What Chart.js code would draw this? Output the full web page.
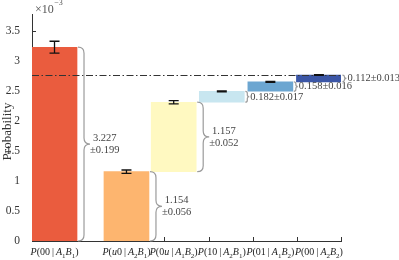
<!DOCTYPE html>
<html>
<head>
<meta charset="utf-8">
<script src="https://cdn.jsdelivr.net/npm/chart.js@4.4.1/dist/chart.umd.min.js"></script>
<style>
  html, body { margin: 0; padding: 0; background: #fff; }
  canvas { display: block; }
</style>
</head>
<body>
<canvas id="chart" width="399" height="260"></canvas>
<script>
const categories = ['P(00|A_1B_1)', 'P(u0|A_2B_1)', 'P(0u|A_1B_2)', 'P(10|A_2B_1)', 'P(01|A_1B_2)', 'P(00|A_2B_2)'];
const values = [3.227, 1.154, 1.157, 0.182, 0.158, 0.112];
const errors = [0.199, 0.056, 0.052, 0.017, 0.016, 0.013];
const yTicks = [0, 0.5, 1, 1.5, 2, 2.5, 3, 3.5];
const slotX = [0.51, 2.14, 3.21, 4.30, 5.40, 6.50];
const colors = ['#EA5C3E', '#FDB56F', '#FFF9C1', '#C8E6F0', '#6CA6D1', '#3B56A6'];
const SERIF = '"Liberation Serif", "Times New Roman", serif';

// first bar stands alone, the rest stack up from zero
const bases = [0];
let run = 0;
for (let i = 1; i < values.length; i++) {
    bases.push(run);
    run += values[i];
}
const total = run;

function brace(ctx, x0, yTop, yBot, w) {
    const h = yBot - yTop;
    const r = Math.min(w / 2, h / 4);
    const xm = x0 + w / 2;
    const ym = (yTop + yBot) / 2;
    ctx.beginPath();
    ctx.moveTo(x0, yTop);
    ctx.quadraticCurveTo(xm, yTop, xm, yTop + r);
    ctx.lineTo(xm, ym - r);
    ctx.quadraticCurveTo(xm, ym, x0 + w, ym);
    ctx.quadraticCurveTo(xm, ym, xm, ym + r);
    ctx.lineTo(xm, yBot - r);
    ctx.quadraticCurveTo(xm, yBot, x0, yBot);
    ctx.stroke();
}

function segments(s) {
    const out = [];
    for (let i = 0; i < s.length; i++) {
        const c = s[i];
        if (c === '_') { out.push({ t: s[++i], sub: true }); continue; }
        if (c === '|') { out.push({ t: '|', pad: 2 }); continue; }
        out.push({ t: c, it: /[A-Za-z]/.test(c) });
    }
    return out;
}

function segFont(sg) {
    if (sg.sub) return '7px ' + SERIF;
    return (sg.it ? 'italic ' : '') + '10px ' + SERIF;
}

function drawRich(ctx, str, cx, baseY) {
    const segs = segments(str);
    let wTot = 0;
    segs.forEach(sg => {
        ctx.font = segFont(sg);
        sg.w = ctx.measureText(sg.t).width + 2 * (sg.pad || 0);
        wTot += sg.w;
    });
    let px = cx - wTot / 2;
    segs.forEach(sg => {
        ctx.font = segFont(sg);
        ctx.fillText(sg.t, px + (sg.pad || 0), sg.sub ? baseY + 2.5 : baseY);
        px += sg.w;
    });
}

const overlay = {
    id: 'overlay',
    beforeDatasetsDraw(chart) {
        const { ctx, chartArea: a } = chart;
        const { x, y } = chart.scales;
        ctx.save();
        ctx.strokeStyle = '#333';
        ctx.lineWidth = 1;
        ctx.beginPath();
        yTicks.forEach(v => {
            const py = Math.round(y.getPixelForValue(v)) + 0.5;
            ctx.moveTo(a.left, py);
            ctx.lineTo(a.left + 4, py);
        });
        for (let k = 1; k <= 7; k++) {
            const px = Math.round(x.getPixelForValue(k)) + 0.5;
            ctx.moveTo(px, a.bottom);
            ctx.lineTo(px, a.bottom - 4);
        }
        ctx.stroke();
        ctx.restore();
    },
    afterDatasetsDraw(chart) {
        const { ctx, chartArea: a } = chart;
        const { y } = chart.scales;
        const bars = chart.getDatasetMeta(0).data;
        ctx.save();

        // dash-dot total line
        const ty = Math.round(y.getPixelForValue(total)) + 0.5;
        ctx.strokeStyle = '#333';
        ctx.lineWidth = 1;
        ctx.setLineDash([7, 2.5, 1.5, 2.5]);
        ctx.beginPath();
        ctx.moveTo(a.left, ty);
        ctx.lineTo(a.right, ty);
        ctx.stroke();
        ctx.setLineDash([]);

        // braces and their labels
        ctx.textBaseline = 'middle';
        bars.forEach((b, i) => {
            const top = y.getPixelForValue(bases[i] + values[i]);
            const bot = y.getPixelForValue(bases[i]);
            const x0 = b.x + b.width / 2 + 1;
            const big = bot - top > 30;
            const w = big ? 12 : 4;
            ctx.strokeStyle = '#9b9b9b';
            ctx.lineWidth = 1.2;
            brace(ctx, x0, top, bot, w);
            const ym = (top + bot) / 2;
            ctx.fillStyle = '#444';
            ctx.font = '10.5px ' + SERIF;
            const l1 = values[i].toFixed(3);
            const l2 = '±' + errors[i].toFixed(3);
            if (big) {
                const w2 = ctx.measureText(l2).width;
                const cx = x0 + w + w2 / 2;
                ctx.textAlign = 'center';
                ctx.fillText(l1, cx, ym - 6);
                ctx.fillText(l2, cx, ym + 6);
            } else {
                ctx.textAlign = 'left';
                ctx.fillText(l1 + l2, x0 + w + 1, ym);
            }
        });

        // error bars
        ctx.strokeStyle = '#111';
        ctx.lineWidth = 1.3;
        bars.forEach((b, i) => {
            const v = bases[i] + values[i];
            const e = errors[i] / 2;
            const y1 = y.getPixelForValue(v + e);
            const y2 = y.getPixelForValue(v - e);
            ctx.beginPath();
            ctx.moveTo(b.x, y1); ctx.lineTo(b.x, y2);
            ctx.moveTo(b.x - 5, y1); ctx.lineTo(b.x + 5, y1);
            ctx.moveTo(b.x - 5, y2); ctx.lineTo(b.x + 5, y2);
            ctx.stroke();
        });

        // category labels with italics and subscripts
        ctx.fillStyle = '#222';
        ctx.textAlign = 'left';
        ctx.textBaseline = 'alphabetic';
        bars.forEach((b, i) => drawRich(ctx, categories[i], b.x, a.bottom + 14));

        // axis title and exponent
        ctx.fillStyle = '#333';
        ctx.save();
        ctx.translate(8, (a.top + a.bottom) / 2 + 4);
        ctx.rotate(-Math.PI / 2);
        ctx.textAlign = 'center';
        ctx.textBaseline = 'middle';
        ctx.font = '13px ' + SERIF;
        ctx.fillText('Probability', 0, 0);
        ctx.restore();

        ctx.fillStyle = '#555';
        ctx.textAlign = 'left';
        ctx.font = '12px ' + SERIF;
        ctx.fillText('×10', 35, 13);
        const wx = ctx.measureText('×10').width;
        ctx.font = '8px ' + SERIF;
        ctx.fillText('−3', 35 + wx + 0.5, 5);
        ctx.restore();
    }
};

new Chart(document.getElementById('chart'), {
    type: 'bar',
    data: {
        datasets: [{
            data: values.map((v, i) => ({ x: slotX[i], y: [bases[i], bases[i] + v] })),
            backgroundColor: colors,
            borderWidth: 0,
            barThickness: 45
        }]
    },
    options: {
        responsive: false,
        animation: false,
        devicePixelRatio: 1,
        layout: { padding: { top: 14, right: 58, bottom: 0, left: 0 } },
        plugins: { legend: { display: false }, tooltip: { enabled: false } },
        scales: {
            x: {
                type: 'linear',
                min: 0,
                max: 7,
                offset: false,
                grid: { display: false, offset: false },
                border: { display: true, color: '#333', width: 1 },
                ticks: { display: false },
                afterFit: s => { s.height = 19; }
            },
            y: {
                min: 0,
                max: 3.78,
                grid: { display: false },
                border: { display: true, color: '#333', width: 1 },
                ticks: {
                    color: '#333',
                    padding: 4,
                    font: { family: SERIF, size: 11.5 },
                    callback: v => String(v)
                },
                afterBuildTicks: s => { s.ticks = yTicks.map(v => ({ value: v })); },
                afterFit: s => { s.width = 32; }
            }
        }
    },
    plugins: [overlay]
});
</script>
</body>
</html>
